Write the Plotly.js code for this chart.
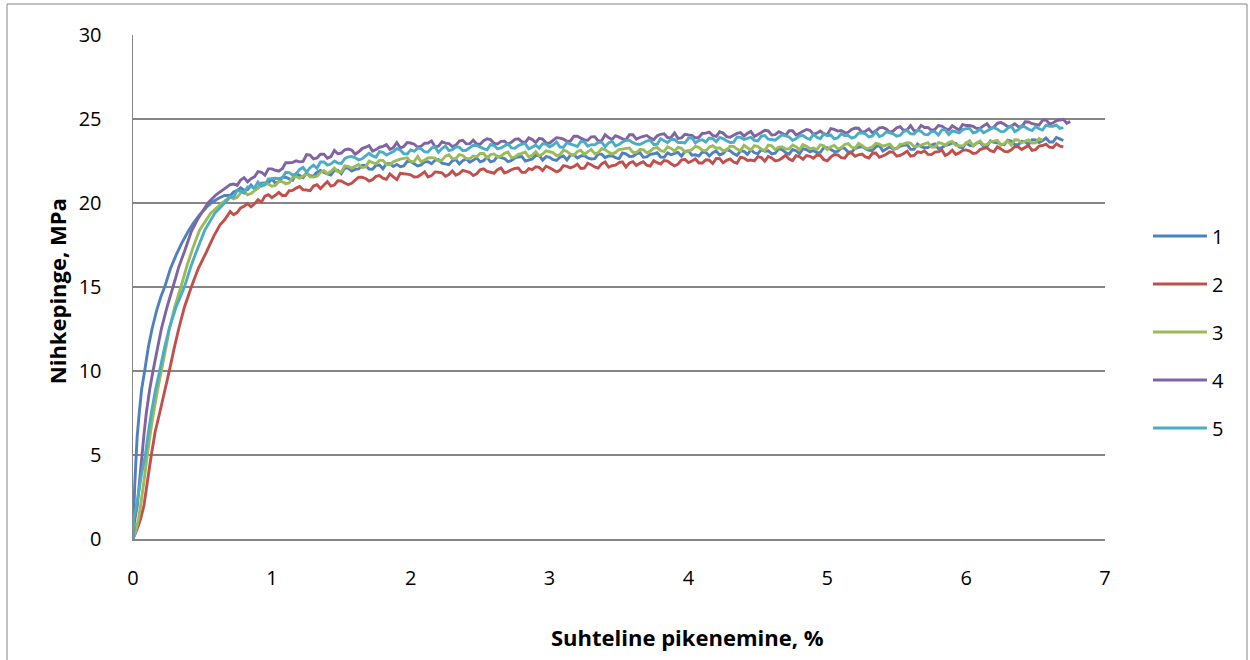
<!DOCTYPE html>
<html>
<head>
<meta charset="utf-8">
<script src="https://cdn.plot.ly/plotly-3.0.1.min.js"></script>
<style>
  html, body { margin: 0; padding: 0; background: #ffffff; }
  #chart { width: 1250px; height: 660px; }
</style>
</head>
<body>
<div id="chart"></div>
<script>
// Compression test: stress (MPa) versus relative shortening (%) for five specimens.

const seriesNames = ['1', '2', '3', '4', '5'];
const seriesColors = ['#4F81BD', '#C0504D', '#9BBB59', '#8064A2', '#4BACC6'];

// Initial loading branch of each specimen (strain %, stress MPa)
const riseStrain1 = [0, 0.006, 0.012, 0.02, 0.03, 0.045, 0.062, 0.084, 0.11, 0.137, 0.17, 0.2, 0.228, 0.27, 0.31, 0.35, 0.39, 0.43, 0.48, 0.53, 0.57, 0.62, 0.66];
const riseStress1 = [0, 1.5, 3.1, 4.5, 6.1, 7.5, 8.9, 10.0, 11.4, 12.5, 13.6, 14.4, 15.0, 16.1, 16.9, 17.6, 18.2, 18.75, 19.3, 19.75, 20.05, 20.3, 20.45];

const riseStrain2 = [0, 0.03, 0.055, 0.079, 0.105, 0.132, 0.16, 0.192, 0.228, 0.264, 0.295, 0.329, 0.37, 0.42, 0.47, 0.53, 0.58, 0.627, 0.66];
const riseStress2 = [0, 0.6, 1.2, 2.0, 3.5, 5.0, 6.4, 7.5, 8.8, 10.1, 11.3, 12.5, 13.8, 15.0, 16.1, 17.1, 18.0, 18.7, 19.0];

const riseStrain3 = [0, 0.02, 0.04, 0.055, 0.08, 0.103, 0.125, 0.15, 0.175, 0.204, 0.235, 0.262, 0.3, 0.345, 0.39, 0.43, 0.48, 0.56, 0.64];
const riseStress3 = [0, 0.5, 1.2, 2.0, 3.5, 5.0, 6.3, 7.6, 8.8, 10.0, 11.3, 12.5, 13.8, 15.0, 16.3, 17.3, 18.4, 19.4, 20.0];

const riseStrain4 = [0, 0.01, 0.02, 0.031, 0.048, 0.065, 0.08, 0.096, 0.12, 0.144, 0.175, 0.204, 0.245, 0.288, 0.33, 0.37, 0.42, 0.47, 0.54, 0.6, 0.65];
const riseStress4 = [0, 1.0, 1.5, 2.0, 3.5, 5.0, 6.3, 7.5, 8.9, 10.0, 11.3, 12.5, 13.8, 15.0, 16.2, 17.1, 18.3, 19.1, 20.0, 20.5, 20.8];

const riseStrain5 = [0, 0.005, 0.02, 0.036, 0.06, 0.089, 0.11, 0.132, 0.16, 0.192, 0.225, 0.26, 0.31, 0.37, 0.42, 0.47, 0.518, 0.59, 0.66];
const riseStress5 = [0, 1.2, 1.8, 2.5, 3.8, 5.0, 6.3, 7.5, 8.8, 10.0, 11.3, 12.5, 13.8, 15.0, 16.3, 17.4, 18.4, 19.4, 20.0];

// Yield plateau, sampled every 0.025 % of strain
const plateauStrain = [
  0.700,0.725,0.750,0.775,0.800,0.825,0.850,0.875,0.900,0.925,0.950,0.975,1.000,1.025,1.050,1.075,1.100,1.125,1.150,1.175,
  1.200,1.225,1.250,1.275,1.300,1.325,1.350,1.375,1.400,1.425,1.450,1.475,1.500,1.525,1.550,1.575,1.600,1.625,1.650,1.675,
  1.700,1.725,1.750,1.775,1.800,1.825,1.850,1.875,1.900,1.925,1.950,1.975,2.000,2.025,2.050,2.075,2.100,2.125,2.150,2.175,
  2.200,2.225,2.250,2.275,2.300,2.325,2.350,2.375,2.400,2.425,2.450,2.475,2.500,2.525,2.550,2.575,2.600,2.625,2.650,2.675,
  2.700,2.725,2.750,2.775,2.800,2.825,2.850,2.875,2.900,2.925,2.950,2.975,3.000,3.025,3.050,3.075,3.100,3.125,3.150,3.175,
  3.200,3.225,3.250,3.275,3.300,3.325,3.350,3.375,3.400,3.425,3.450,3.475,3.500,3.525,3.550,3.575,3.600,3.625,3.650,3.675,
  3.700,3.725,3.750,3.775,3.800,3.825,3.850,3.875,3.900,3.925,3.950,3.975,4.000,4.025,4.050,4.075,4.100,4.125,4.150,4.175,
  4.200,4.225,4.250,4.275,4.300,4.325,4.350,4.375,4.400,4.425,4.450,4.475,4.500,4.525,4.550,4.575,4.600,4.625,4.650,4.675,
  4.700,4.725,4.750,4.775,4.800,4.825,4.850,4.875,4.900,4.925,4.950,4.975,5.000,5.025,5.050,5.075,5.100,5.125,5.150,5.175,
  5.200,5.225,5.250,5.275,5.300,5.325,5.350,5.375,5.400,5.425,5.450,5.475,5.500,5.525,5.550,5.575,5.600,5.625,5.650,5.675,
  5.700,5.725,5.750,5.775,5.800,5.825,5.850,5.875,5.900,5.925,5.950,5.975,6.000,6.025,6.050,6.075,6.100,6.125,6.150,6.175,
  6.200,6.225,6.250,6.275,6.300,6.325,6.350,6.375,6.400,6.425,6.450,6.475,6.500,6.525,6.550,6.575,6.600,6.625,6.650,6.675,
  6.700,6.725,6.750
];

const plateauStress1 = [
  20.45,20.66,20.75,20.90,20.76,20.79,21.07,20.84,20.90,21.18,21.20,21.22,21.42,21.19,21.26,21.52,21.54,21.44,21.36,21.74,
  21.64,21.51,21.78,21.63,21.59,21.83,21.94,21.82,21.74,21.67,21.94,21.95,21.74,22.08,22.08,21.90,22.00,22.03,22.24,22.23,
  22.02,22.01,22.25,22.26,22.03,22.34,22.34,22.18,22.30,22.16,22.21,22.48,22.47,22.34,22.21,22.26,22.45,22.46,22.34,22.54,
  22.59,22.37,22.33,22.28,22.51,22.59,22.33,22.52,22.62,22.43,22.54,22.69,22.45,22.52,22.72,22.45,22.51,22.78,22.70,22.65,
  22.46,22.53,22.68,22.74,22.77,22.50,22.55,22.62,22.83,22.83,22.55,22.76,22.72,22.58,22.53,22.72,22.80,22.56,22.85,22.86,
  22.68,22.80,22.83,22.68,22.62,22.64,22.91,22.91,22.70,22.80,22.81,22.70,22.63,22.98,22.93,22.77,22.78,22.92,23.00,22.72,
  22.74,22.90,22.93,22.99,22.73,22.72,22.98,22.87,22.95,23.01,22.79,23.07,23.10,22.85,22.87,22.80,23.03,23.02,22.80,22.99,
  23.09,22.86,22.95,23.17,23.10,22.94,22.83,23.10,23.07,22.89,23.16,22.99,22.93,23.18,23.08,23.11,22.92,22.96,23.23,23.18,
  23.00,22.91,23.18,23.11,22.94,23.23,23.18,23.04,23.13,23.00,23.01,23.29,23.29,23.18,23.06,23.07,23.28,23.25,23.04,23.04,
  23.24,23.32,23.36,23.23,23.14,23.12,23.35,23.42,23.09,23.21,23.34,23.20,23.24,23.39,23.43,23.46,23.19,23.19,23.51,23.37,
  23.29,23.30,23.45,23.51,23.24,23.29,23.44,23.48,23.58,23.55,23.33,23.28,23.57,23.43,23.40,23.57,23.63,23.38,23.38,23.70,
  23.61,23.59,23.50,23.47,23.74,23.69,23.48,23.46,23.67,23.64,23.48,23.77,23.75,23.60,23.71,23.87,23.63,23.63,23.90,23.82,
  23.72
];

const plateauStress2 = [
  19.49,19.30,19.43,19.71,19.81,19.96,19.77,19.95,20.20,20.05,20.41,20.50,20.32,20.46,20.63,20.45,20.45,20.73,20.75,20.89,
  20.98,20.78,20.77,20.73,21.01,21.09,20.86,21.07,21.27,21.01,21.07,21.32,21.31,21.19,21.09,21.17,21.36,21.54,21.53,21.46,
  21.31,21.39,21.59,21.63,21.48,21.41,21.73,21.55,21.39,21.77,21.74,21.72,21.68,21.55,21.56,21.70,21.85,21.55,21.63,21.85,
  21.83,21.80,21.59,21.69,21.91,21.66,21.75,21.94,21.88,21.83,21.64,21.74,21.98,22.03,21.88,21.83,21.77,21.99,22.09,21.79,
  21.86,21.98,22.06,22.08,21.82,21.82,22.05,21.98,22.15,22.12,21.93,22.19,22.10,21.98,21.85,21.95,22.22,22.18,22.09,22.17,
  22.31,22.05,22.08,22.37,22.28,22.15,22.08,22.33,22.44,22.13,22.22,22.25,22.40,22.45,22.14,22.38,22.46,22.24,22.36,22.46,
  22.25,22.20,22.52,22.40,22.32,22.53,22.49,22.34,22.21,22.31,22.55,22.60,22.41,22.50,22.63,22.38,22.38,22.57,22.55,22.35,
  22.65,22.64,22.39,22.54,22.62,22.44,22.37,22.73,22.68,22.53,22.56,22.51,22.76,22.71,22.49,22.77,22.68,22.51,22.55,22.68,
  22.84,22.61,22.52,22.82,22.76,22.60,22.82,22.78,22.66,22.85,22.83,22.58,22.51,22.73,22.89,22.86,22.70,22.67,22.94,22.98,
  22.78,22.87,22.91,22.74,22.68,22.96,22.97,22.72,22.80,22.90,23.05,23.02,22.79,22.84,22.95,23.08,22.79,22.83,23.04,22.99,
  23.11,22.89,22.88,23.03,23.05,23.16,22.82,22.94,23.15,22.89,22.98,23.13,23.16,23.09,22.95,22.98,23.18,23.25,23.29,23.11,
  23.05,23.35,23.22,23.07,23.05,23.17,23.35,23.34,23.19,23.31,23.42,23.13,23.18,23.39,23.42,23.50,23.32,23.29,23.52,23.39,
  23.34
];

const plateauStress3 = [
  20.37,20.25,20.34,20.59,20.70,20.49,20.56,20.74,20.87,21.06,21.15,21.12,21.00,21.04,21.27,21.27,21.14,21.20,21.53,21.58,
  21.47,21.60,21.78,21.56,21.55,21.59,21.81,21.93,21.75,21.89,22.08,21.86,21.85,22.21,22.18,22.07,22.18,22.29,22.11,22.15,
  22.49,22.40,22.33,22.54,22.54,22.29,22.28,22.46,22.54,22.61,22.66,22.69,22.46,22.48,22.76,22.45,22.56,22.68,22.70,22.67,
  22.51,22.55,22.79,22.87,22.64,22.65,22.88,22.83,22.64,22.63,22.80,22.75,22.95,22.95,22.68,22.88,22.92,22.74,22.79,22.96,
  23.04,22.70,22.75,22.90,22.95,23.03,22.74,22.84,23.05,22.81,22.91,23.10,23.05,23.00,22.82,22.88,23.15,23.07,22.91,22.85,
  23.05,23.14,22.90,23.04,23.19,22.94,22.99,23.23,23.18,23.03,22.91,23.01,23.18,23.21,23.25,23.27,23.02,23.00,23.18,23.17,
  22.99,23.09,23.27,23.30,23.12,23.07,23.35,23.25,23.09,23.31,23.25,23.04,23.07,23.18,23.37,23.31,23.15,23.10,23.32,23.41,
  23.25,23.29,23.10,23.16,23.38,23.37,23.21,23.12,23.43,23.29,23.16,23.41,23.36,23.21,23.12,23.45,23.41,23.18,23.32,23.34,
  23.21,23.22,23.45,23.35,23.18,23.47,23.37,23.24,23.27,23.18,23.46,23.41,23.17,23.35,23.43,23.23,23.28,23.48,23.53,23.33,
  23.26,23.55,23.42,23.26,23.25,23.34,23.55,23.50,23.38,23.45,23.52,23.26,23.25,23.50,23.52,23.59,23.57,23.36,23.37,23.44,
  23.52,23.59,23.33,23.33,23.60,23.55,23.44,23.61,23.67,23.43,23.41,23.39,23.56,23.70,23.41,23.55,23.70,23.46,23.49,23.65,
  23.68,23.73,23.44,23.54,23.69,23.45,23.76,23.75,23.58,23.68,23.76,23.57,23.58,23.83,23.73
];

const plateauStress4 = [
  21.10,21.13,21.05,21.37,21.51,21.26,21.45,21.56,21.87,21.83,21.65,22.03,22.03,21.95,21.90,22.04,22.40,22.40,22.42,22.51,
  22.45,22.48,22.88,22.85,22.62,22.68,22.90,22.91,22.67,22.76,23.13,22.93,22.97,23.17,23.21,23.15,22.90,23.05,23.24,23.32,
  23.42,23.09,23.18,23.32,23.37,23.47,23.19,23.30,23.60,23.28,23.36,23.60,23.57,23.50,23.32,23.38,23.56,23.57,23.69,23.35,
  23.39,23.64,23.56,23.54,23.36,23.44,23.69,23.73,23.52,23.53,23.74,23.51,23.50,23.71,23.82,23.77,23.55,23.51,23.67,23.68,
  23.51,23.61,23.79,23.82,23.65,23.60,23.88,23.78,23.60,23.85,23.80,23.58,23.56,23.73,23.89,23.86,23.80,23.67,23.69,23.98,
  23.97,23.86,23.76,23.74,23.94,23.95,23.69,23.71,24.06,23.89,23.78,24.01,23.92,23.82,23.76,24.06,24.06,23.80,23.90,23.97,
  24.02,23.86,23.77,24.00,24.09,24.12,23.89,23.90,24.17,23.85,23.88,24.09,24.05,24.03,23.87,23.91,24.14,24.16,24.22,24.02,
  23.97,24.24,24.16,23.95,23.91,24.03,24.14,24.19,23.98,24.15,24.26,23.96,24.08,24.20,24.33,24.29,24.05,24.07,24.24,24.15,
  24.03,24.30,24.30,24.05,24.14,24.27,24.38,24.33,24.10,24.16,24.28,24.12,24.07,24.43,24.38,24.28,24.31,24.19,24.20,24.38,
  24.46,24.45,24.20,24.27,24.41,24.17,24.30,24.47,24.50,24.40,24.21,24.29,24.48,24.54,24.32,24.36,24.60,24.30,24.31,24.62,
  24.49,24.50,24.32,24.38,24.61,24.58,24.43,24.35,24.60,24.47,24.34,24.68,24.61,24.61,24.56,24.44,24.44,24.59,24.72,24.44,
  24.52,24.74,24.80,24.69,24.54,24.58,24.72,24.55,24.53,24.83,24.82,24.72,24.68,24.64,24.92,24.95,24.70,24.76,24.90,24.94,
  24.98,24.75,24.84
];

const plateauStress5 = [
  20.37,20.36,20.74,20.70,20.59,20.96,20.96,20.91,21.25,21.01,21.08,21.44,21.45,21.47,21.46,21.49,21.83,21.81,21.66,21.73,
  22.00,22.12,21.84,22.10,22.25,22.07,22.44,22.44,22.26,22.32,22.50,22.38,22.35,22.64,22.75,22.77,22.69,22.57,22.63,22.81,
  22.96,22.80,22.72,23.06,23.02,22.86,22.96,23.07,23.23,23.16,22.93,22.92,23.16,23.08,23.27,23.22,23.05,23.03,23.27,23.35,
  23.01,23.24,23.39,23.12,23.17,23.34,23.32,23.11,23.14,23.29,23.44,23.42,23.32,23.24,23.17,23.48,23.42,23.22,23.28,23.39,
  23.53,23.28,23.26,23.42,23.50,23.54,23.22,23.32,23.45,23.27,23.53,23.51,23.34,23.45,23.63,23.33,23.32,23.59,23.50,23.44,
  23.36,23.66,23.64,23.38,23.47,23.46,23.60,23.62,23.35,23.58,23.68,23.39,23.48,23.63,23.74,23.73,23.59,23.50,23.48,23.59,
  23.69,23.74,23.48,23.49,23.83,23.71,23.60,23.78,23.78,23.60,23.60,23.57,23.86,23.88,23.57,23.73,23.76,23.63,23.87,23.83,
  23.65,23.90,23.83,23.71,23.60,23.61,23.93,23.91,23.78,23.84,23.91,23.73,23.69,23.98,24.01,23.80,23.78,23.74,23.91,24.06,
  23.99,23.93,23.73,23.82,23.99,24.02,23.87,23.78,24.10,23.91,23.83,24.11,24.01,24.04,23.82,23.87,24.12,24.01,24.02,23.86,
  23.93,24.16,24.17,24.11,23.93,23.99,24.25,23.96,24.03,24.24,24.18,24.12,23.98,24.03,24.25,24.32,24.12,24.11,24.33,24.27,
  24.08,24.06,24.25,24.25,24.05,24.35,24.35,24.08,24.29,24.24,24.18,24.37,24.43,24.44,24.18,24.23,24.40,24.18,24.28,24.41,
  24.49,24.39,24.25,24.26,24.45,24.57,24.25,24.35,24.60,24.52,24.39,24.31,24.55,24.42,24.34,24.63,24.56,24.57,24.64,24.44,
  24.49
];

const xTickVals = [0, 1, 2, 3, 4, 5, 6, 7];
const yTickVals = [0, 5, 10, 15, 20, 25, 30];

const rises = [
  [riseStrain1, riseStress1],
  [riseStrain2, riseStress2],
  [riseStrain3, riseStress3],
  [riseStrain4, riseStress4],
  [riseStrain5, riseStress5]
];
const plateaus = [plateauStress1, plateauStress2, plateauStress3, plateauStress4, plateauStress5];

const traces = seriesNames.map((name, i) => ({
  type: 'scatter',
  mode: 'lines',
  name: name,
  legendgroup: 'g' + name,
  x: rises[i][0].concat(plateauStrain.slice(0, plateaus[i].length)),
  y: rises[i][1].concat(plateaus[i]),
  line: { color: seriesColors[i], width: 2.9, simplify: false },
  hoverinfo: 'skip'
}));

const gray = '#868686';
const fontFamily = '"Open Sans", "Noto Sans", sans-serif';

const layout = {
  width: 1250,
  height: 660,
  margin: { l: 133, r: 145, t: 35, b: 121, autoexpand: false },
  paper_bgcolor: '#ffffff',
  plot_bgcolor: '#ffffff',
  font: { family: fontFamily, size: 20, color: '#000000' },
  showlegend: true,
  legend: {
    x: 1.0442, xanchor: 'left',
    y: 0.640, yanchor: 'top',
    font: { family: fontFamily, size: 20, color: '#000000' },
    tracegroupgap: 19,
    itemwidth: 54,
    bgcolor: 'rgba(0,0,0,0)'
  },
  xaxis: {
    range: [0, 7],
    tickvals: xTickVals,
    ticktext: xTickVals.map(String),
    showgrid: false,
    zeroline: false,
    showline: true,
    linecolor: gray,
    linewidth: 1.5,
    ticks: '',
    ticklabelstandoff: 20,
    fixedrange: true
  },
  yaxis: {
    range: [0, 30],
    tickvals: yTickVals,
    ticktext: yTickVals.map(String),
    showgrid: true,
    gridcolor: gray,
    gridwidth: 1.5,
    zeroline: false,
    showline: true,
    linecolor: gray,
    linewidth: 1.5,
    ticks: '',
    ticklabelstandoff: 26,
    fixedrange: true
  },
  annotations: [
    {
      text: '<b>Suhteline pikenemine, %</b>',
      xref: 'paper', yref: 'paper',
      x: 0.57, y: -0.194,
      xanchor: 'center', yanchor: 'middle',
      showarrow: false,
      font: { family: fontFamily, size: 22, color: '#000000' }
    },
    {
      text: '<b>Nihkepinge, MPa</b>',
      xref: 'paper', yref: 'paper',
      x: -0.078, y: 0.492,
      xanchor: 'center', yanchor: 'middle',
      textangle: -90,
      showarrow: false,
      font: { family: fontFamily, size: 22, color: '#000000' }
    }
  ],
  shapes: [
    {
      type: 'rect', xref: 'paper', yref: 'paper',
      x0: -0.1296, x1: 1.1461, y0: -0.3, y1: 1.0615,
      line: { color: gray, width: 1 },
      fillcolor: 'rgba(0,0,0,0)'
    }
  ]
};

Plotly.newPlot('chart', traces, layout, { displayModeBar: false, staticPlot: true });
</script>
</body>
</html>
